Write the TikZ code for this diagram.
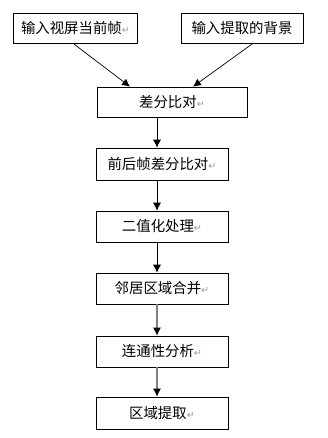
\documentclass[tikz,border=0pt]{standalone}
\usepackage{fontspec}
\usepackage{xcolor}
\usepackage{tikz}
\usetikzlibrary{arrows.meta}
\setmainfont{Noto Sans CJK SC}
\newfontfamily\symfont{DejaVu Sans}
\definecolor{inkc}{HTML}{000000}
\definecolor{linegray}{HTML}{808080}
\definecolor{markgray}{HTML}{9A9A9A}
\newcommand{\retmark}{{\symfont\fontsize{5.5}{6}\selectfont\color{markgray}↵}}
\newdimen\unitpx
\unitpx=0.02cm
\tikzset{
  procbox/.style={draw=inkc, thin, rectangle, minimum height=30\unitpx, inner sep=0pt, font=\fontsize{8.2}{9}\selectfont},
  flowarrow/.style={-{Latex[length=4.5pt,width=4.5pt,color=inkc]}, inkc, thin},
}

\begin{document}
\begin{tikzpicture}[x=0.02cm, y=-0.02cm]
  \useasboundingbox (0,0) rectangle (327,438);
  % input boxes
  \node[procbox, minimum width=124\unitpx] (inframe) at (75.5,28) {输入视屏当前帧\retmark};
  \node[procbox, minimum width=122\unitpx] (inbg) at (242,28) {输入提取的背景};
  \node[procbox, minimum width=150\unitpx] (diff) at (172,102) {差分比对\retmark};
  % main column
  \node[procbox, minimum width=132\unitpx, minimum height=32\unitpx] (framediff) at (162,164) {前后帧差分比对\retmark};
  \node[procbox, minimum width=132\unitpx, minimum height=31\unitpx] (binar) at (162,226.5) {二值化处理\retmark};
  \node[procbox, minimum width=132\unitpx, minimum height=31\unitpx] (merge) at (162,288.5) {邻居区域合并\retmark};
  \node[procbox, minimum width=132\unitpx, minimum height=31\unitpx] (connect) at (162,351.5) {连通性分析\retmark};
  \node[procbox, minimum width=132\unitpx, minimum height=32\unitpx] (extract) at (162,413) {区域提取\retmark};
  % connectors
  \coordinate (hitl) at (130,0);
  \coordinate (hitr) at (193,0);
  \coordinate (axis) at (157,0);
  \draw[flowarrow] (inframe.south -| 73,0) -- (diff.north -| hitl);
  \draw[flowarrow] (inbg.south -| 253,0) -- (diff.north -| hitr);
  \draw[flowarrow] (diff.south -| axis) -- (framediff.north -| axis);
  \draw[flowarrow] (framediff.south -| axis) -- (binar.north -| axis);
  \draw[flowarrow] (binar.south -| axis) -- (merge.north -| axis);
  \draw[flowarrow, draw=linegray, line width=0.6pt] (merge.south -| axis) -- (connect.north -| axis);
  \draw[flowarrow, draw=linegray, line width=0.6pt] (connect.south -| axis) -- (extract.north -| axis);
\end{tikzpicture}
\end{document}
